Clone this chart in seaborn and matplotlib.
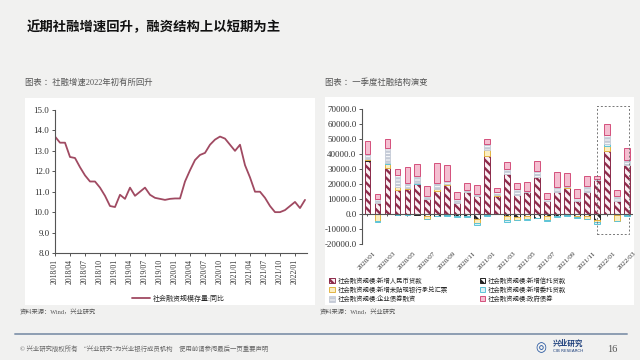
import numpy as np
import matplotlib
matplotlib.use('Agg')
import matplotlib.pyplot as plt
from matplotlib.patches import Rectangle
import seaborn as sns

sns.set_theme(style='white')
plt.rcParams['font.family'] = ['Liberation Serif', 'Noto Sans CJK SC', 'DejaVu Sans']
plt.rcParams['hatch.linewidth'] = 1.7

# ---- left chart: 社会融资规模存量同比 (%) 2018/01 - 2022/03
tsf_yoy = [13.7, 13.4, 13.4, 12.7, 12.65, 12.2, 11.8, 11.5, 11.5, 11.2,
           10.8, 10.3, 10.25, 10.85, 10.65, 11.2, 10.8, 11.0, 11.2, 10.85,
           10.7, 10.65, 10.6, 10.65, 10.67, 10.67, 11.5, 12.05, 12.55, 12.8,
           12.9, 13.3, 13.55, 13.7, 13.6, 13.3, 13.0, 13.3, 12.3, 11.7,
           11.0, 11.0, 10.7, 10.3, 10.0, 10.0, 10.1, 10.3, 10.5, 10.2, 10.6]
line_ticks = ['2018/01', '2018/04', '2018/07', '2018/10', '2019/01', '2019/04',
              '2019/07', '2019/10', '2020/01', '2020/04', '2020/07', '2020/10',
              '2021/01', '2021/04', '2021/07', '2021/10', '2022/01']

# ---- right chart: 社融结构 (亿元) 2020/01 - 2022/03
months = ['2020/01', '2020/02', '2020/03', '2020/04', '2020/05', '2020/06', '2020/07',
          '2020/08', '2020/09', '2020/10', '2020/11', '2020/12', '2021/01', '2021/02',
          '2021/03', '2021/04', '2021/05', '2021/06', '2021/07', '2021/08', '2021/09',
          '2021/10', '2021/11', '2021/12', '2022/01', '2022/02', '2022/03']
rmb_loans = [35500, 7300, 31000, 16200, 16700, 20000, 10000, 15600, 19300, 7300,
             14400, 12000, 38500, 12200, 26700, 12700, 14900, 24400, 8900, 14400,
             17500, 8900, 14400, 23000, 42000, 8900, 32500]
trust_loans = [300, -200, -300, -400, -300, -500, -1100, -1000, -800, -1000,
               -1500, -3500, -800, -200, -1200, -1800, -1500, -2500, -1500, -1000,
               -900, -1300, -1400, -4000, -300, -600, -600]
bills = [1200, -4500, 2200, 1600, 500, 300, -2000, 1000, 700, -600,
         400, -2500, 4500, 500, -3000, -2000, -2000, 500, -2200, -100,
         500, -1000, -2000, -1400, 3500, -4000, 200]
entrusted = [-300, -500, 1000, -300, -400, 500, -400, -300, -300, -500,
             -400, -1000, -300, -100, -800, -500, -300, -200, -1000, -600,
             -400, -100, -200, -1500, 1000, -300, -400]
corp_bonds = [3000, 2700, 9500, 8300, 3300, 4500, 2200, 4400, 2200, 2700,
              1400, 1300, 4000, 1700, 3500, 4000, 200, 4000, 1100, 3400,
              400, 1500, 4000, 300, 6000, 3300, 3500]
gov_bonds = [8800, 3300, 6300, 3900, 10600, 8000, 6200, 12800, 10500, 4400,
             4500, 6000, 3000, 2700, 4700, 4000, 6500, 6700, 3800, 10000,
             8900, 6300, 7200, 1800, 7500, 4000, 7600]

bg = '#f1f1f0'
fig = plt.figure(figsize=(6.4, 3.6), dpi=100, facecolor=bg)


def fbox(x0, y0, x1, y1):
    # pixel box -> figure fraction [left, bottom, width, height]
    return [x0 / 640, 1 - y1 / 360, (x1 - x0) / 640, (y1 - y0) / 360]


# white panels
for x0, y0, x1, y1 in [(25, 98, 315, 305), (325, 97, 634, 305)]:
    b = fbox(x0, y0, x1, y1)
    fig.add_artist(Rectangle((b[0], b[1]), b[2], b[3], transform=fig.transFigure,
                             facecolor='white', edgecolor='none', zorder=0))

fig.text(27 / 640, 1 - 27 / 360, '近期社融增速回升，融资结构上以短期为主', fontsize=9.6,
         fontweight='bold', family=['Noto Sans CJK SC'], va='center', color='#111111')
fig.text(25 / 640, 1 - 83 / 360, '图表 ：社融增速2022年初有所回升', fontsize=6,
         va='center', color='#555555')
fig.text(325 / 640, 1 - 83 / 360, '图表 ：一季度社融结构演变', fontsize=6,
         va='center', color='#555555')
for sx in [20, 320]:
    fig.text(sx / 640, 1 - 313 / 360, '资料来源：Wind，兴业研究', fontsize=4.5,
             va='center', color='#555555')

# ---- left line chart
ax1 = fig.add_axes(fbox(55, 110, 307, 253))
ax1.set_facecolor('white')
sns.lineplot(x=np.arange(len(tsf_yoy)), y=tsf_yoy, ax=ax1, color='#a04a62',
             linewidth=1.3, label='社会融资规模存量:同比')
ax1.set_xlim(0, 50.4)
ax1.set_ylim(8, 15)
ax1.set_yticks(np.arange(8, 15.5, 1))
ax1.set_yticklabels(['%.1f' % v for v in np.arange(8, 15.5, 1)])
ax1.set_xticks(np.arange(0, 49, 3))
ax1.set_xticklabels(line_ticks)
for s in ['top', 'right']:
    ax1.spines[s].set_visible(False)
for s in ['left', 'bottom']:
    ax1.spines[s].set_color('#555555')
    ax1.spines[s].set_linewidth(0.8)
ax1.tick_params(axis='both', length=2.5, width=0.7, color='#555555',
                labelcolor='#333333', pad=1.5, direction='out')
ax1.tick_params(axis='x', bottom=True, labelsize=5.5, labelrotation=90)
ax1.tick_params(axis='y', left=True, labelsize=6.5)
ax1.legend(loc='center', bbox_to_anchor=(178 / 640, 1 - 298 / 360),
           bbox_transform=fig.transFigure, frameon=False, fontsize=5,
           handlelength=2.6, handletextpad=0.4)

# ---- right stacked bar chart
ax2 = fig.add_axes(fbox(362, 109, 632, 244))
ax2.set_facecolor('white')
x = np.arange(len(months))
styles = [
    (rmb_loans, '社会融资规模:新增人民币贷款', '#fbeff3', '#8c2a4a', '\\\\\\\\'),
    (trust_loans, '社会融资规模:新增信托贷款', 'white', '#222222', '\\\\\\\\'),
    (bills, '社会融资规模:新增未贴现银行承兑汇票', '#fbeec2', '#e2b444', None),
    (entrusted, '社会融资规模:新增委托贷款', '#dcf2f6', '#5cc4d8', None),
    (corp_bonds, '社会融资规模:企业债券融资', 'white', '#c4cad6', '-----'),
    (gov_bonds, '社会融资规模:政府债券', '#f4bfd1', '#d4507c', None),
]
pos_base = np.zeros(len(x))
neg_base = np.zeros(len(x))
handles = {}
for vals, lab, fc, ec, hatch in styles:
    v = np.array(vals, dtype=float)
    pos = np.clip(v, 0, None)
    neg = np.clip(v, None, 0)
    m = pos > 0
    lw = 0.6 if hatch == '-----' else 0.7
    h = ax2.bar(x[m], pos[m], bottom=pos_base[m], width=0.55, color=fc, edgecolor=ec,
                hatch=hatch, linewidth=lw, label=lab, zorder=2)
    m = neg < 0
    ax2.bar(x[m], neg[m], bottom=neg_base[m], width=0.55, color=fc, edgecolor=ec,
            hatch=hatch, linewidth=lw, zorder=2)
    pos_base += pos
    neg_base += neg
    handles[lab] = h

ax2.set_xlim(-0.53, 26.5)
ax2.set_ylim(-20000, 70000)
yt = np.arange(-20000, 70001, 10000)
ax2.set_yticks(yt)
ax2.set_yticklabels(['%.1f' % v for v in yt])
ax2.set_xticks(x[::2])
ax2.set_xticklabels(months[::2])
ax2.spines['bottom'].set_position(('data', 0))
for s in ['top', 'right']:
    ax2.spines[s].set_visible(False)
for s in ['left', 'bottom']:
    ax2.spines[s].set_color('#555555')
    ax2.spines[s].set_linewidth(0.8)
    ax2.spines[s].set_zorder(3)
ax2.tick_params(axis='y', left=True, length=2.5, width=0.7, color='#555555',
                labelsize=6.5, labelcolor='#333333', pad=1.5, direction='out')
ax2.tick_params(axis='x', bottom=True, length=3, width=0.7, color='#555555',
                labelsize=5.2, labelcolor='#333333', pad=25, direction='inout',
                labelrotation=45)
ax2.add_patch(Rectangle((23.0, -13000), 3.15, 84800, fill=False, edgecolor='#777777',
                        linestyle=(0, (2, 2)), linewidth=0.7, clip_on=False, zorder=4))

order = ['社会融资规模:新增人民币贷款', '社会融资规模:新增未贴现银行承兑汇票', '社会融资规模:企业债券融资',
         '社会融资规模:新增信托贷款', '社会融资规模:新增委托贷款', '社会融资规模:政府债券']
ax2.legend([handles[k] for k in order], order, ncol=2, loc='upper left',
           bbox_to_anchor=(326 / 640, 1 - 274 / 360), bbox_transform=fig.transFigure,
           frameon=False, fontsize=4.6, handlelength=0.9, handleheight=0.9,
           handletextpad=0.4, columnspacing=5.0, labelspacing=0.35, borderpad=0)

# ---- footer
fig.add_artist(plt.Line2D([15 / 640, 627 / 640], [1 - 334 / 360, 1 - 334 / 360],
                          transform=fig.transFigure, color='#8d9db2', linewidth=1.4))
fig.text(20 / 640, 1 - 349 / 360,
         '© 兴业研究版权所有    “兴业研究”为兴业银行成员机构    使用前请参阅最后一页重要声明',
         fontsize=4.6, va='center', color='#666666')
fig.text(541 / 640, 1 - 348 / 360, '◎', fontsize=9, va='center', ha='center',
         color='#1d4f9c', family=['DejaVu Sans'])
fig.text(553 / 640, 1 - 344 / 360, '兴业研究', fontsize=5.5, va='center',
         fontweight='bold', color='#1d3f7c')
fig.text(553 / 640, 1 - 351 / 360, 'CIB RESEARCH', fontsize=3, va='center',
         color='#1d3f7c', family=['DejaVu Sans'])
fig.text(607 / 640, 1 - 349 / 360, '16', fontsize=7.5, va='center', color='#555555')

fig.savefig('out.png', dpi=100, facecolor=bg)
